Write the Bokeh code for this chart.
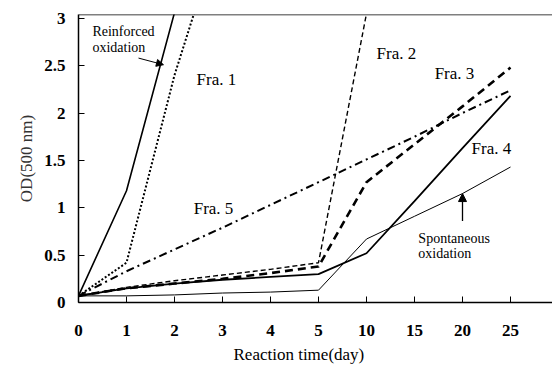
from bokeh.plotting import figure
from bokeh.models import (FixedTicker, Range1d, Span, Label, Arrow, NormalHead, Title)
from bokeh.embed import file_html
from bokeh.resources import INLINE

days = [0, 1, 2, 3, 4, 5, 10, 15, 20, 25]
pos = list(range(len(days)))

reinforced = [0.07, 1.18, 3.06]
fra1 = [0.07, 0.42, 2.40, 4.00]
fra2 = [0.07, 0.16, 0.23, 0.29, 0.35, 0.42, 3.05]
fra3 = [0.07, 0.15, 0.20, 0.25, 0.31, 0.38, 1.27, 1.67, 2.07, 2.48]
fra4 = [0.07, 0.15, 0.20, 0.24, 0.27, 0.30, 0.52, 1.07, 1.63, 2.18]
fra5 = [0.07, 0.33, 0.56, 0.79, 1.03, 1.27, 1.51, 1.75, 2.00, 2.24]
spontaneous = [0.07, 0.07, 0.08, 0.10, 0.11, 0.13, 0.67, 0.91, 1.15, 1.43]

y_ticks = [0, 0.5, 1, 1.5, 2, 2.5, 3]
y_tick_labels = ["0", "0.5", "1", "1.5", "2", "2.5", "3"]

SERIF = "Liberation Serif"

p = figure(width=552, height=370, output_backend="svg", toolbar_location=None,
           x_range=Range1d(0, 9.875), y_range=Range1d(0, 3.04),
           min_border_left=78, min_border_right=0, min_border_top=14,
           min_border_bottom=68)
p.outline_line_color = None
p.grid.grid_line_color = None
p.background_fill_color = "white"

# series
p.line(pos[:len(reinforced)], reinforced, line_color="black", line_width=1.6)
p.line(pos[:len(fra1)], fra1, line_color="black", line_width=2, line_dash="2 2")
p.line(pos[:len(fra2)], fra2, line_color="black", line_width=1.4, line_dash="5 3")
p.line(pos, fra3, line_color="black", line_width=2.6, line_dash="8 5")
p.line(pos, fra4, line_color="black", line_width=1.8)
p.line(pos, fra5, line_color="black", line_width=2, line_dash="8 4 2 4")
p.line(pos, spontaneous, line_color="black", line_width=1)

# top border line
p.add_layout(Span(location=3.04, dimension="width", line_color="black", line_width=1.5))

# axes
p.xaxis.ticker = FixedTicker(ticks=pos)
p.xaxis.major_label_overrides = {i: str(d) for i, d in zip(pos, days)}
p.yaxis.ticker = FixedTicker(ticks=y_ticks)
p.yaxis.major_label_overrides = {t: l for t, l in zip(y_ticks, y_tick_labels)}
for ax in (p.xaxis, p.yaxis):
    ax.axis_line_color = "black"
    ax.axis_line_width = 1.5
    ax.major_tick_in = 6
    ax.major_tick_out = 0
    ax.major_tick_line_color = "black"
    ax.minor_tick_line_color = None
    ax.major_label_text_font = SERIF
    ax.major_label_text_font_style = "bold"
    ax.major_label_text_font_size = "17px"
    ax.major_label_text_color = "black"
p.xaxis.major_label_standoff = 22
p.yaxis.major_label_standoff = 13

p.yaxis.axis_label = "OD(500 nm)"
p.yaxis.axis_label_text_font = SERIF
p.yaxis.axis_label_text_font_style = "normal"
p.yaxis.axis_label_text_font_size = "17px"
p.yaxis.axis_label_text_color = "#333333"
p.yaxis.axis_label_standoff = 5

# x-axis title, placed below the axis, shifted like the original
p.add_layout(Title(text="Reaction time(day)", align="left", offset=155,
                   text_font=SERIF, text_font_size="17px", text_font_style="normal",
                   text_color="black", standoff=8), "below")

def lab(x, y, t, size="17px"):
    p.add_layout(Label(x=x, y=y, text=t, text_align="left", text_baseline="middle",
                       text_font=SERIF, text_font_size=size, text_color="black"))

lab(0.29, 2.86, "Reinforced", "14px")
lab(0.29, 2.69, "oxidation", "14px")
lab(2.46, 2.35, "Fra. 1")
lab(6.21, 2.63, "Fra. 2")
lab(7.42, 2.42, "Fra. 3")
lab(8.19, 1.63, "Fra. 4")
lab(2.40, 0.99, "Fra. 5")
lab(7.08, 0.68, "Spontaneous", "14px")
lab(7.08, 0.52, "oxidation", "14px")

p.add_layout(Arrow(end=NormalHead(size=7, fill_color="black", line_color="black"),
                   x_start=1.25, y_start=2.58, x_end=1.77, y_end=2.51,
                   line_color="black", line_width=1))
p.add_layout(Arrow(end=NormalHead(size=8, fill_color="black", line_color="black"),
                   x_start=8, y_start=0.86, x_end=8, y_end=1.15,
                   line_color="black", line_width=1.3))

open("out.html", "w").write(file_html(p, INLINE))
